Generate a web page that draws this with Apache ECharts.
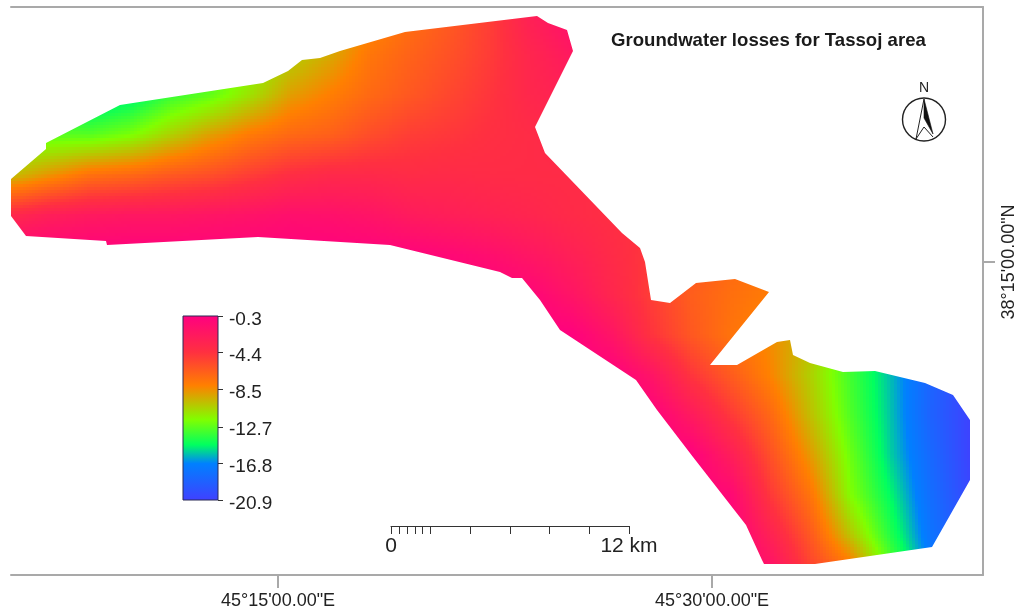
<!DOCTYPE html>
<html><head><meta charset="utf-8">
<style>html,body{margin:0;padding:0;background:#fff}#c{width:1021px;height:615px}</style>
<script src="https://cdn.jsdelivr.net/npm/echarts@6/dist/echarts.min.js"></script>
</head><body><div id="c"></div>
<script>
// Map units: easting / northing of the sheet frame
const lonTicks = [267, 701];
const lonLabels = ['45°15\'00.00"E', '45°30\'00.00"E'];
const latTicks = [313];
const latLabels = ['38°15\'00.00"N'];

// Legend
const legendTicks = [-0.3, -4.4, -8.5, -12.7, -16.8, -20.9];
const rampValues = [-0.3, -4.4, -8.1, -11.9, -14.7, -16.8, -20.9];
const rampColors = ['#ff0080', '#ff3040', '#ff8000', '#80ff00', '#00ff60', '#0080ff', '#4040ff'];

// Scale bar
const scaleTicks = [0, 0.4, 0.8, 1.2, 1.6, 2, 4, 6, 8, 10, 12];
const scaleLabels = [0, 12];

// Study-area outline [easting, northing]
const outline = [
 [0,396],[35,426],[35,432],[109,470],[252,492],[277,504],[291,515],[309,517],[329,524],[394,543],
 [526,559],[537,552],[556,545],[562,524],[524,448],[534,422],[611,342],[629,327],[634,313],[640,275],
 [659,272],[685,292],[724,296],[758,283],[699,210],[726,210],[766,233],[779,235],[782,220],[799,212],
 [832,203],[864,204],[914,192],[942,180],[959,155],[959,95],[921,28],[804,11],[753,11],[751,15],
 [735,50],[682,118],[646,165],[625,195],[549,245],[529,275],[511,297],[501,297],[489,303],[379,330],
 [247,338],[96,330],[95,334],[15,339],[0,359]
];

// Groundwater loss read at grid nodes (null = away from the study area)
const eastings = [0,40,80,120,160,200,240,280,320,360,400,440,480,520,560,600,640,680,720,760,800,840,880,920,960];
const northings = [560,520,480,440,400,360,320,280,240,200,160,120,80,40,0];
const _ = null;
const lossN560 = [-15,-15,-15,-15,-14.5,-13.5,-12.5,-11.5,-10,-8.5,-7.3,-6.3,-5,-3,-1.5,-1.5,_,_,_,_,_,_,_,_,_];
const lossN520 = [-16,-16,-16,-16,-15,-13.5,-12,-10.5,-9.3,-7.6,-6.7,-5.9,-4.9,-3.5,-2.4,-2,_,_,_,_,_,_,_,_,_];
const lossN480 = [-15,-15,-16,-15.2,-13.5,-12.6,-11,-9,-8,-7,-6.2,-5.4,-4.6,-3.6,-3,-3,_,_,_,_,_,_,_,_,_];
const lossN440 = [-12.5,-12.8,-12.8,-12,-10.5,-9,-7.8,-7,-6.6,-5.7,-5,-4.7,-4.3,-4,-3.5,-3.5,_,_,_,_,_,_,_,_,_];
const lossN400 = [-10,-8.7,-7.4,-7,-6.3,-5.8,-5,-4.2,-3.8,-3.8,-4,-3.9,-4,-4,-4,-4,_,_,_,_,_,_,_,_,_];
const lossN360 = [-3.8,-2.9,-2.5,-2.3,-2.3,-2.1,-1.9,-1.6,-1.7,-2,-2.6,-2.9,-3.2,-3.5,-3.9,-4.2,-4.5,_,_,_,_,_,_,_,_];
const lossN320 = [-0.3,-0.3,-0.3,-0.3,-0.3,-0.3,-0.3,-0.3,-0.3,-0.4,-0.6,-1,-1.5,-2.2,-3,-3.9,-4.8,-6,-7,-7.6,_,_,_,_,_];
const lossN280 = [_,_,_,_,_,_,_,_,_,_,-0.3,-0.3,-0.3,-0.8,-2,-3.5,-5,-6.5,-7.3,-7.9,_,_,_,_,_];
const lossN240 = [_,_,_,_,_,_,_,_,_,_,_,_,_,-0.3,-0.4,-2,-4.5,-6.2,-7.5,-8.5,-10,-13.3,-15.5,-18.7,_];
const lossN200 = [_,_,_,_,_,_,_,_,_,_,_,_,_,-0.3,-0.3,-0.3,-2,-4.6,-6.4,-8.2,-10.5,-13.3,-15.8,-18.6,-20.7];
const lossN160 = [_,_,_,_,_,_,_,_,_,_,_,_,_,_,_,-0.3,-0.4,-2.5,-4.8,-7,-10,-13,-15.7,-18.7,-20.8];
const lossN120 = [_,_,_,_,_,_,_,_,_,_,_,_,_,_,_,_,-0.3,-0.4,-2.8,-5.9,-8.9,-12.4,-15.5,-18.3,-20.8];
const lossN80  = [_,_,_,_,_,_,_,_,_,_,_,_,_,_,_,_,_,-0.3,-1,-4.8,-7.6,-11.9,-14.8,-18,-20.5];
const lossN40  = [_,_,_,_,_,_,_,_,_,_,_,_,_,_,_,_,_,-0.3,-0.3,-3.2,-6.3,-10.2,-14,-17.6,-20];
const lossN0   = [_,_,_,_,_,_,_,_,_,_,_,_,_,_,_,_,_,-0.3,-0.3,-1.5,-5,-7,-12.5,-17,-20];
const lossRows = [lossN560,lossN520,lossN480,lossN440,lossN400,lossN360,lossN320,lossN280,lossN240,lossN200,lossN160,lossN120,lossN80,lossN40,lossN0];

const FONT = '"Liberation Sans", Arial, sans-serif';
const rampRGB = rampColors.map(h => [1,3,5].map(i => parseInt(h.substr(i,2),16)));
function colorOf(v){
  if (v >= rampValues[0]) return rampColors[0];
  for (let i=1;i<rampValues.length;i++){
    if (v >= rampValues[i]){
      const t=(rampValues[i-1]-v)/(rampValues[i-1]-rampValues[i]);
      const a=rampRGB[i-1], b=rampRGB[i];
      return 'rgb('+Math.round(a[0]+(b[0]-a[0])*t)+','+Math.round(a[1]+(b[1]-a[1])*t)+','+Math.round(a[2]+(b[2]-a[2])*t)+')';
    }
  }
  return rampColors[rampColors.length-1];
}
const rampSpan = rampValues[0]-rampValues[rampValues.length-1];
const legendStops = rampValues.map((v,i)=>({offset:(rampValues[0]-v)/rampSpan,color:rampColors[i]}));

const cells = [];
for (let r=0;r<northings.length-1;r++) for (let c=0;c<eastings.length-1;c++){
  const a=lossRows[r][c],b=lossRows[r][c+1],d=lossRows[r+1][c],e=lossRows[r+1][c+1];
  if (a===null||b===null||d===null||e===null) continue;
  cells.push([eastings[c],northings[r],eastings[c+1],northings[r+1],a,b,d,e]);
}
const STEP=3;
function renderCell(params, api){
  const tl=api.coord([api.value(0),api.value(1)]), br=api.coord([api.value(2),api.value(3)]);
  const a=api.value(4),b=api.value(5),d=api.value(6),e=api.value(7);
  const x0=Math.round(tl[0]),y0=Math.round(tl[1]),x1=Math.round(br[0]),y1=Math.round(br[1]);
  const children=[];
  for (let y=y0;y<y1;y+=STEP) for (let x=x0;x<x1;x+=STEP){
    const u=(x+STEP/2-x0)/(x1-x0), w=(y+STEP/2-y0)/(y1-y0);
    const v=(a*(1-u)+b*u)*(1-w)+(d*(1-u)+e*u)*w;
    children.push({type:'rect',silent:true,shape:{x:x,y:y,width:Math.min(STEP,x1-x),height:Math.min(STEP,y1-y)},style:{fill:colorOf(v)}});
  }
  return {type:'group',children:children,clipPath:{type:'polygon',shape:{points:outline.map(p=>api.coord(p))}}};
}
const grayAxis={lineStyle:{color:'#a9a9a9',width:2}};
const chart=echarts.init(document.getElementById('c'),null,{renderer:'canvas'});
chart.setOption({
  animation:false,
  backgroundColor:'#fff',
  title:{text:'Groundwater losses for Tassoj area',left:611,top:31,padding:0,
    textStyle:{fontFamily:FONT,fontSize:18.6,fontWeight:'bold',color:'#1a1a1a'}},
  grid:[
    {left:11,right:38,top:7,bottom:40,show:false},
    {left:183,top:316,width:35,height:184,show:false},
    {left:391,top:525,width:238,height:1,show:false}
  ],
  xAxis:[
    {gridIndex:0,type:'value',min:0,max:972,position:'bottom',splitLine:{show:false},
     axisLine:{show:true,onZero:false,...grayAxis},
     axisTick:{show:true,length:13,customValues:lonTicks,...grayAxis},
     axisLabel:{show:true,customValues:lonTicks,margin:17,fontFamily:FONT,fontSize:18,color:'#222',
       formatter:v=>lonLabels[lonTicks.indexOf(+v)]}},
    {gridIndex:0,type:'value',min:0,max:972,position:'top',splitLine:{show:false},
     axisLine:{show:true,onZero:false,...grayAxis},axisTick:{show:false},axisLabel:{show:false}},
    {gridIndex:1,type:'value',min:0,max:1,show:false},
    {gridIndex:2,type:'value',min:0,max:12,position:'bottom',splitLine:{show:false},
     axisLine:{show:true,onZero:false,lineStyle:{color:'#333',width:1}},
     axisTick:{show:true,length:8,customValues:scaleTicks,lineStyle:{color:'#333',width:1}},
     axisLabel:{show:true,customValues:scaleLabels,margin:10,fontFamily:FONT,fontSize:21,color:'#222',
       formatter:v=>(+v===12?'12 km':'0')}}
  ],
  yAxis:[
    {gridIndex:0,type:'value',min:0,max:568,position:'right',splitLine:{show:false},
     axisLine:{show:true,onZero:false,...grayAxis},
     axisTick:{show:true,length:12,customValues:latTicks,...grayAxis},
     axisLabel:{show:true,customValues:latTicks,rotate:90,margin:17,fontFamily:FONT,fontSize:18,color:'#222',
       formatter:v=>latLabels[latTicks.indexOf(+v)]}},
    {gridIndex:1,type:'value',min:-20.9,max:-0.3,position:'right',splitLine:{show:false},
     axisLine:{show:false,onZero:false},
     axisTick:{show:true,length:5,customValues:legendTicks,lineStyle:{color:'#333'}},
     axisLabel:{show:true,customValues:legendTicks,margin:11,verticalAlign:'top',lineHeight:7,fontFamily:FONT,fontSize:19,color:'#222',
       formatter:v=>(+v).toFixed(1)}},
    {gridIndex:2,type:'value',min:0,max:1,show:false}
  ],
  series:[
    {type:'custom',xAxisIndex:0,yAxisIndex:0,coordinateSystem:'cartesian2d',data:cells,
     renderItem:renderCell,silent:true,clip:true,progressive:0,animation:false,
     encode:{x:[0,2],y:[1,3]}},
    {type:'custom',xAxisIndex:2,yAxisIndex:1,coordinateSystem:'cartesian2d',data:[[0,rampValues[0],1,rampValues[rampValues.length-1]]],
     silent:true,animation:false,encode:{x:[0,2],y:[1,3]},
     renderItem:(p,api)=>{
       const a=api.coord([api.value(0),api.value(1)]),b=api.coord([api.value(2),api.value(3)]);
       return {type:'rect',shape:{x:a[0],y:a[1],width:b[0]-a[0],height:b[1]-a[1]},
         style:{fill:new echarts.graphic.LinearGradient(0,0,0,1,legendStops),stroke:'#2b2b55',lineWidth:1}};
     }}
  ],
  graphic:[
    {type:'text',left:919,top:81,silent:true,style:{text:'N',font:'14px '+FONT,fill:'#222'}},
    {type:'circle',silent:true,shape:{cx:924,cy:119.5,r:21.5},style:{fill:'none',stroke:'#222',lineWidth:1.4}},
    {type:'polygon',silent:true,shape:{points:[[924,99],[933,134],[924,118]]},style:{fill:'#111',stroke:'#111',lineWidth:0.6}},
    {type:'polyline',silent:true,shape:{points:[[924,99],[916,139],[924,127],[933,137]]},style:{fill:'none',stroke:'#222',lineWidth:1}}
  ]
});
</script></body></html>
